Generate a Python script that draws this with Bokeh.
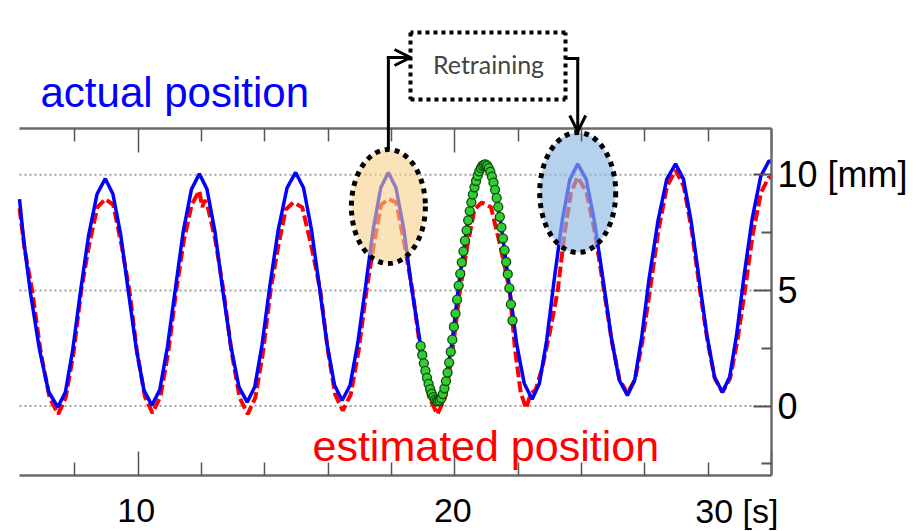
from bokeh.plotting import figure
from bokeh.models import FixedTicker, LinearAxis, Label, Arrow, OpenHead, Range1d
from bokeh.embed import file_html
from bokeh.resources import INLINE

# ---------------- data ----------------
# actual position (blue, solid)
blue_t = [6.25, 6.38, 6.59,
          6.88, 7.17, 7.46, 7.70, 7.93, 8.17, 8.43, 8.70, 8.96,
          9.20, 9.45, 9.69, 9.94, 10.18, 10.43, 10.68, 10.92, 11.17, 11.42, 11.68, 11.93,
          12.17, 12.42, 12.66, 12.92, 13.18, 13.44, 13.68, 13.91, 14.15, 14.42, 14.70, 14.97,
          15.22, 15.47, 15.72, 15.96, 16.20, 16.44, 16.69, 16.93, 17.18, 17.42, 17.66, 17.90,
          18.14, 18.39, 18.63, 18.91, 19.19, 19.47, 19.69, 19.91, 20.13, 20.40, 20.68, 20.95,
          21.20, 21.45, 21.70, 21.95, 22.19, 22.44, 22.67, 22.90, 23.13, 23.38, 23.63, 23.88,
          24.15, 24.41, 24.68, 24.94, 25.19, 25.45, 25.68, 25.90, 26.13, 26.41, 26.69, 26.97,
          27.22, 27.46, 27.71, 27.96, 28.20, 28.45, 28.68, 28.90, 29.13, 29.39, 29.66, 29.92,
          30.00]
blue_v = [8.95, 7.20, 4.95,
          2.45, 0.62, -0.05, 0.61, 2.42, 4.89, 7.36, 9.17, 9.83,
          9.17, 7.38, 4.93, 2.48, 0.69, 0.03, 0.70, 2.54, 5.04, 7.54, 9.37, 10.04,
          9.38, 7.57, 5.10, 2.63, 0.83, 0.17, 0.83, 2.65, 5.13, 7.61, 9.43, 10.10,
          9.44, 7.64, 5.17, 2.70, 0.90, 0.24, 0.90, 2.70, 5.17, 7.64, 9.44, 10.10,
          9.44, 7.63, 5.15, 2.68, 0.86, 0.20, 0.89, 2.76, 5.33, 7.89, 9.76, 10.45,
          9.77, 7.92, 5.38, 2.70, 0.98, 0.30, 0.98, 2.85, 5.39, 7.93, 9.79, 10.47,
          9.80, 7.97, 5.47, 2.97, 1.13, 0.46, 1.13, 2.97, 5.47, 7.97, 9.80, 10.47,
          9.81, 8.00, 5.54, 3.07, 1.26, 0.60, 1.27, 3.10, 5.60, 8.10, 9.93, 10.60,
          10.55]

# estimated position (red, dashed)
red_t = [6.25, 6.41, 6.65,
         6.92, 7.20, 7.47, 7.71, 7.96, 8.20, 8.45, 8.71, 8.96,
         9.21, 9.47, 9.72, 9.96, 10.21, 10.45, 10.70, 10.95, 11.20, 11.44, 11.69, 11.93,
         12.02, 12.10, 12.18, 12.44, 12.69, 12.95, 13.20, 13.46, 13.70, 13.94, 14.18,
         14.42, 14.66, 14.90, 15.18, 15.47, 15.75, 15.99, 16.22, 16.46, 16.71, 16.96, 17.21,
         17.44, 17.67, 17.90, 18.15, 18.41, 18.66, 18.92, 19.19, 19.45, 19.69, 19.92, 20.16,
         20.39, 20.62, 20.85, 21.14, 21.44, 21.73, 21.90, 22.08, 22.25,
         22.40, 22.55, 22.75, 23.00, 23.25, 23.46, 23.67, 23.88, 24.16, 24.43, 24.71,
         24.96, 25.20, 25.45, 25.69, 25.92, 26.16, 26.43, 26.70, 26.97, 27.23, 27.48, 27.74,
         27.98, 28.21, 28.45, 28.69, 28.92, 29.16, 29.41, 29.67, 29.92, 30.00]
red_v = [8.55, 6.80, 5.00,
         2.33, 0.37, -0.35, 0.37, 2.33, 5.00, 6.98, 8.60, 8.95,
         8.70, 6.98, 5.00, 2.35, 0.41, -0.30, 0.41, 2.35, 5.00, 7.15, 8.72, 9.30,
         8.60, 8.90, 8.70, 7.15, 5.00, 2.33, 0.37, -0.35, 0.37, 2.33, 5.00,
         6.90, 8.50, 8.80, 8.60, 6.90, 5.00, 2.40, 0.50, -0.20, 0.50, 2.40, 5.00,
         6.98, 8.70, 8.95, 8.80, 6.98, 5.00, 2.33, 0.37, -0.35, 0.37, 2.33, 5.00,
         6.90, 8.50, 8.80, 8.60, 6.90, 5.00, 2.45, 0.58, -0.10,
         0.55, 0.70, 1.60, 3.20, 5.00, 7.45, 9.24, 9.90, 9.24, 7.45, 5.00,
         2.77, 1.15, 0.55, 1.15, 2.77, 5.00, 7.60, 9.50, 10.20, 9.50, 7.60, 5.00,
         2.80, 1.19, 0.60, 1.19, 2.80, 5.00, 7.45, 9.24, 9.90, 9.85]

# samples used for retraining (green markers)
green_t = [18.92, 18.97, 19.02, 19.07, 19.12, 19.17, 19.22, 19.27, 19.32, 19.37, 19.42, 19.47,
           19.52, 19.57, 19.62, 19.67, 19.72, 19.77, 19.82, 19.87, 19.92, 19.97, 20.02, 20.07, 20.12,
           20.17, 20.22, 20.27, 20.32, 20.37, 20.42, 20.47, 20.52, 20.57, 20.62, 20.67, 20.72, 20.77,
           20.82, 20.87, 20.92,
           20.97, 21.02, 21.07, 21.12, 21.17, 21.22, 21.27, 21.32, 21.37, 21.42, 21.47, 21.52, 21.57,
           21.62, 21.67,
           21.72, 21.77, 21.82]
green_v = [2.60, 2.21, 1.85, 1.52, 1.22, 0.96, 0.73, 0.54, 0.39, 0.28, 0.22, 0.20,
           0.24, 0.34, 0.52, 0.77, 1.08, 1.45, 1.88, 2.35, 2.87, 3.43, 4.00, 4.60, 5.21,
           5.72, 6.21, 6.69, 7.15, 7.60, 8.03, 8.43, 8.81, 9.15, 9.46, 9.73, 9.96, 10.15,
           10.29, 10.39, 10.44,
           10.45, 10.39, 10.29, 10.13, 9.92, 9.66, 9.35, 9.00, 8.61, 8.18, 7.73, 7.25, 6.74,
           6.23, 5.70,
           5.10, 4.40, 3.70]

x_tick_values = [10, 20, 30]
x_tick_labels = ["10", "20", "30 [s]"]
x_minor_ticks = [8, 12, 14, 16, 18, 22, 24, 26, 28]
y_tick_values = [0, 5, 10]
y_tick_labels = ["0", "5", "10 [mm]"]
y_minor_ticks = [-2.5, 2.5, 7.5]
x_limits = (6.25, 30.0)
y_limits = (-3.0, 12.0)

series_names = ["actual position", "estimated position"]
retrain_text = "Retraining"
retrain_peaks = [17.90, 23.88]   # peaks circled before / after retraining

# ---------------- layout (pixels) ----------------
W, H = 920, 531
PX_LEFT, PX_RIGHT = 19, 771      # plot box left / right edge
PY_TOP, PY_BOT = 128, 475        # plot box top / bottom edge
sx = (PX_RIGHT - PX_LEFT) / (x_limits[1] - x_limits[0])
sy = (PY_BOT - PY_TOP) / (y_limits[1] - y_limits[0])
x_start = x_limits[0] - PX_LEFT / sx
x_end = x_start + W / sx
y_end = y_limits[1] + PY_TOP / sy
y_start = y_end - H / sy


def dx(px):
    return x_start + px / sx


def dy(py):
    return y_end - py / sy


def mid_for_baseline(py, size):
    # vertical centre of a text line whose baseline sits at py
    return dy(py - 0.31 * size)


FONT = "Liberation Sans"
p = figure(width=W, height=H, x_range=Range1d(x_start, x_end), y_range=Range1d(y_start, y_end),
           y_axis_location="right", output_backend="svg", toolbar_location=None,
           min_border=0, min_border_left=0, min_border_right=0, min_border_top=0,
           min_border_bottom=0)
p.outline_line_color = None
p.background_fill_color = "white"
p.border_fill_color = "white"
p.xgrid.visible = False
p.ygrid.visible = False

AX_COL = "#6a6a6a"
TICK_COL = "#555555"


def style_x_axis(ax, loc):
    ax.fixed_location = loc
    ax.bounds = x_limits
    ax.ticker = FixedTicker(ticks=x_tick_values, minor_ticks=x_minor_ticks)
    ax.axis_line_color = AX_COL
    ax.axis_line_width = 2.5
    ax.major_tick_line_color = TICK_COL
    ax.major_tick_line_width = 1.5
    ax.minor_tick_line_color = TICK_COL
    ax.minor_tick_line_width = 1.5
    ax.major_tick_in = 24
    ax.major_tick_out = 0
    ax.minor_tick_in = 13
    ax.minor_tick_out = 0
    ax.major_label_overrides = {v: "" for v in x_tick_values}
    ax.major_label_standoff = 0


style_x_axis(p.xaxis[0], y_limits[0])
top_axis = LinearAxis()
style_x_axis(top_axis, y_limits[1])
p.add_layout(top_axis, "above")

ya = p.yaxis[0]
ya.fixed_location = x_limits[1]
ya.bounds = y_limits
ya.ticker = FixedTicker(ticks=y_tick_values, minor_ticks=y_minor_ticks)
ya.major_label_overrides = {v: t for v, t in zip(y_tick_values, y_tick_labels)}
ya.axis_line_color = AX_COL
ya.axis_line_width = 2.5
ya.major_tick_line_color = TICK_COL
ya.major_tick_line_width = 2
ya.minor_tick_line_color = TICK_COL
ya.minor_tick_line_width = 2
ya.major_tick_in = 18
ya.major_tick_out = 0
ya.minor_tick_in = 10
ya.minor_tick_out = 0
ya.major_label_standoff = 6
ya.major_label_text_font = FONT
ya.major_label_text_font_size = "36px"
ya.major_label_text_color = "black"

# dotted horizontal grid lines at the labelled y ticks, limited to the plot box
p.segment(x0=[x_limits[0]] * len(y_tick_values), x1=[x_limits[1]] * len(y_tick_values),
          y0=y_tick_values, y1=y_tick_values, line_color="#a0a0a0", line_width=2,
          line_dash="2 3")

# bottom tick labels
XT_SIZE = 34
for v, t in zip(x_tick_values, x_tick_labels):
    last = (v == x_tick_values[-1])
    p.add_layout(Label(x=v, y=mid_for_baseline(521, XT_SIZE), text=t, text_font=FONT,
                       text_font_size=f"{XT_SIZE}px", text_color="black",
                       text_align="right" if last else "center",
                       text_baseline="middle", x_offset=7 if last else -2))

# ---------------- series ----------------
p.line(red_t, red_v, line_color="#ff0000", line_width=4, line_dash="11 4")
p.line(blue_t, blue_v, line_color="#0000ff", line_width=3.5)
p.scatter(green_t, green_v, size=9, fill_color="#33cc33", line_color="#0b4d0b",
          line_width=1.3)

# highlighted peaks (before / after retraining)
ell_before_y = dy(206)
ell_after_y = dy(192)
p.ellipse(x=[retrain_peaks[0]], y=[ell_before_y], width=74, height=114,
          width_units="screen", height_units="screen",
          fill_color="#f7d08a", fill_alpha=0.6, line_color="black",
          line_width=5, line_dash="5 5")
p.ellipse(x=[retrain_peaks[1]], y=[ell_after_y], width=76, height=120,
          width_units="screen", height_units="screen",
          fill_color="#8fb8e0", fill_alpha=0.65, line_color="black",
          line_width=5, line_dash="5 5")

# ---------------- "Retraining" box and connectors ----------------
bx0, bx1, by0, by1 = dx(410), dx(565), dy(99), dy(32)
for xs, ys, xe, ye in [(bx0, by0, bx1, by0), (bx1, by0, bx1, by1),
                       (bx1, by1, bx0, by1), (bx0, by1, bx0, by0)]:
    p.add_layout(Arrow(end=None, x_start=xs, y_start=ys, x_end=xe, y_end=ye,
                       line_color="black", line_width=4, line_dash="4 4"))

conn_left_y = dy(57)
conn_right_y = dy(58)
p.add_layout(Arrow(end=None, x_start=retrain_peaks[0], y_start=dy(149),
                   x_end=retrain_peaks[0], y_end=conn_left_y, line_color="black", line_width=3))
p.add_layout(Arrow(end=OpenHead(size=16, line_width=3, line_color="black"),
                   x_start=retrain_peaks[0] - 0.05, y_start=conn_left_y, x_end=bx0,
                   y_end=conn_left_y, line_color="black", line_width=3))
p.add_layout(Arrow(end=None, x_start=bx1, y_start=conn_right_y,
                   x_end=retrain_peaks[1] + 0.05, y_end=conn_right_y,
                   line_color="black", line_width=3))
p.add_layout(Arrow(end=OpenHead(size=16, line_width=3, line_color="black"),
                   x_start=retrain_peaks[1], y_start=conn_right_y,
                   x_end=retrain_peaks[1], y_end=dy(131),
                   line_color="black", line_width=3))

p.add_layout(Label(x=dx(488), y=dy(63), text=retrain_text,
                   text_font="Lato", text_font_size="25px", text_color="#444444",
                   text_align="center", text_baseline="middle"))

p.add_layout(Label(x=dx(40), y=mid_for_baseline(105, 42), text=series_names[0], text_font=FONT,
                   text_font_size="42px", text_color="#0000ff",
                   text_align="left", text_baseline="middle"))
p.add_layout(Label(x=dx(312), y=mid_for_baseline(459, 43), text=series_names[1], text_font=FONT,
                   text_font_size="43px", text_color="#ff0000",
                   text_align="left", text_baseline="middle"))

open("out.html", "w").write(file_html(p, INLINE))
